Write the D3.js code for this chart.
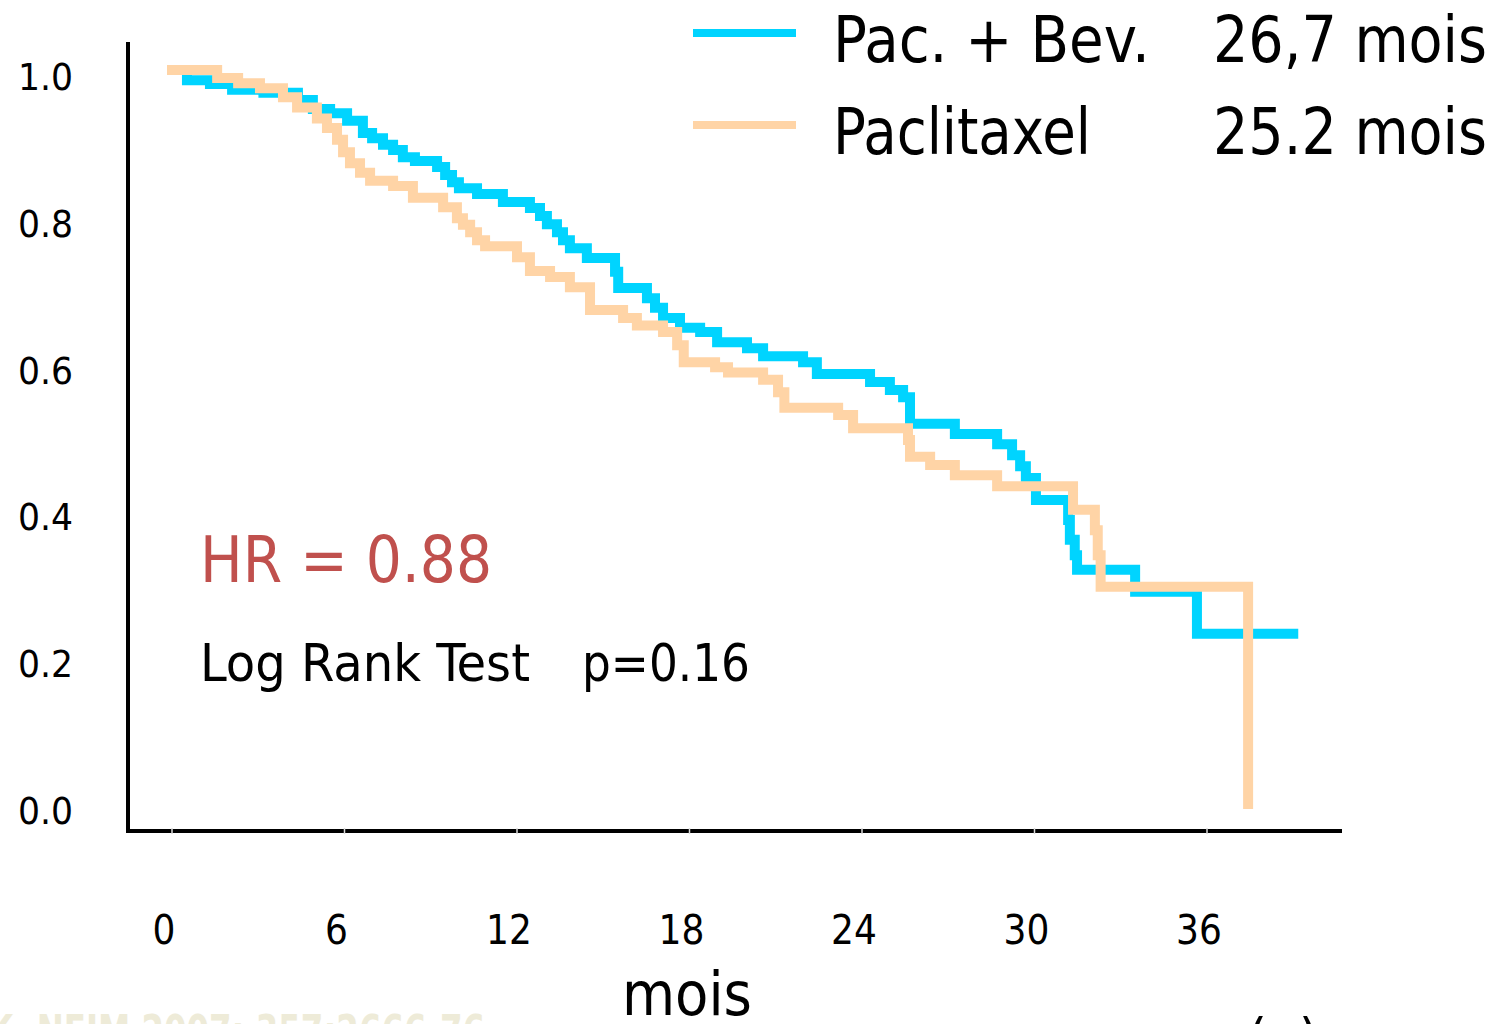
<!DOCTYPE html>
<html>
<head>
<meta charset="utf-8">
<script src="https://cdn.jsdelivr.net/npm/d3@7"></script>
<style>
  html, body { margin: 0; padding: 0; background: #fff; }
  svg { display: block; font-family: "DejaVu Sans Condensed", "DejaVu Sans", Verdana, sans-serif; }
</style>
</head>
<body>
<svg id="km" width="1497" height="1024"></svg>
<script>
/* ===== Data ===== */

// Pac. + Bev. : step times (months) and survival after each step
const bevTimes = [0, 0.52, 1.32, 2.09, 3.18, 4.38, 4.90, 5.50, 6.09, 6.64, 6.96, 7.34, 7.69, 8.03, 8.45,
  9.22, 9.50, 9.74, 9.98, 10.61, 11.51, 12.45, 12.80, 13.04, 13.39, 13.60, 13.84, 14.43, 15.41, 15.52,
  16.52, 16.80, 17.08, 17.67, 18.37, 18.96, 20.0, 20.56, 21.95, 22.43, 24.28, 24.97, 25.43, 25.67,
  27.23, 28.70, 29.22, 29.50, 29.70, 30.05, 31.17, 31.23, 31.40, 31.48, 33.50, 35.65, 39.0];
const bevSurv = [1.0, 0.986, 0.981, 0.973, 0.969, 0.959, 0.947, 0.941, 0.931, 0.914, 0.907, 0.898, 0.891,
  0.881, 0.876, 0.868, 0.857, 0.847, 0.839, 0.831, 0.820, 0.812, 0.801, 0.790, 0.779, 0.768, 0.757,
  0.744, 0.725, 0.703, 0.689, 0.676, 0.662, 0.649, 0.643, 0.629, 0.621, 0.610, 0.602, 0.586, 0.575,
  0.564, 0.554, 0.518, 0.504, 0.490, 0.475, 0.460, 0.444, 0.414, 0.387, 0.360, 0.339, 0.319, 0.289,
  0.232, 0.232];

// Paclitaxel
const pacTimes = [0, 1.57, 2.30, 3.06, 3.86, 4.35, 5.04, 5.39, 5.74, 5.95, 6.19, 6.54, 6.89, 7.69, 8.38,
  9.43, 9.91, 10.12, 10.37, 10.61, 10.89, 12.0, 12.45, 13.15, 13.84, 14.54, 15.69, 16.17, 17.08, 17.57,
  17.80, 18.89, 19.34, 20.56, 21.08, 21.30, 23.17, 23.69, 25.60, 25.67, 26.37, 27.23, 28.70, 31.34,
  32.10, 32.20, 32.30, 37.43];
const pacSurv = [1.0, 0.989, 0.982, 0.975, 0.963, 0.949, 0.934, 0.921, 0.905, 0.888, 0.873, 0.860, 0.849,
  0.842, 0.826, 0.813, 0.798, 0.789, 0.779, 0.768, 0.760, 0.745, 0.726, 0.718, 0.704, 0.673, 0.662,
  0.652, 0.643, 0.625, 0.602, 0.595, 0.588, 0.578, 0.561, 0.540, 0.530, 0.512, 0.496, 0.473, 0.462,
  0.448, 0.433, 0.401, 0.373, 0.339, 0.296, 0.0];

const seriesNames = ["Pac. + Bev.", "Paclitaxel"];
const seriesMedians = ["26,7 mois", "25.2 mois"];
const seriesColors = ["#00d4ff", "#ffd4a6"];

const xTicks = [0, 6, 12, 18, 24, 30, 36];
const yTicks = [0.0, 0.2, 0.4, 0.6, 0.8, 1.0];

/* ===== Setup ===== */

const svg = d3.select("#km");

const x = d3.scaleLinear().domain([0, 36]).range([172, 1207]);
const y = d3.scaleLinear().domain([0, 1]).range([804, 70]);

const toPoints = (ts, ss) => ts.map((t, i) => ({ t: t, s: ss[i] }));
const curves = [toPoints(bevTimes, bevSurv), toPoints(pacTimes, pacSurv)];

/* ===== Axes ===== */

svg.append("line")
  .attr("x1", 128).attr("x2", 128).attr("y1", 42).attr("y2", 833)
  .attr("stroke", "#000").attr("stroke-width", 4);

svg.append("line")
  .attr("x1", 126).attr("x2", 1342).attr("y1", 831).attr("y2", 831)
  .attr("stroke", "#000").attr("stroke-width", 4);

// small light tick marks cutting the axis
svg.selectAll(".xtick")
  .data(xTicks)
  .enter()
  .append("line")
  .attr("class", "xtick")
  .attr("x1", d => x(d)).attr("x2", d => x(d))
  .attr("y1", 828).attr("y2", 834)
  .attr("stroke", "#ddd").attr("stroke-width", 1.5);

svg.selectAll(".xlab")
  .data(xTicks)
  .enter()
  .append("text")
  .attr("class", "xlab")
  .attr("x", d => x(d) - 8)
  .attr("y", 944)
  .attr("text-anchor", "middle")
  .attr("font-size", 40)
  .text(d => d);

svg.selectAll(".ylab")
  .data(yTicks)
  .enter()
  .append("text")
  .attr("class", "ylab")
  .attr("x", 18)
  .attr("y", d => y(d) + 20)
  .attr("font-size", 38)
  .attr("textLength", 55)
  .attr("lengthAdjust", "spacingAndGlyphs")
  .text(d => d.toFixed(1));

svg.append("text")
  .attr("x", 622).attr("y", 1015)
  .attr("font-size", 60)
  .attr("textLength", 130).attr("lengthAdjust", "spacingAndGlyphs")
  .text("mois");

/* ===== Curves ===== */

const line = d3.line()
  .x(d => x(d.t))
  .y(d => y(d.s))
  .curve(d3.curveStepAfter);

curves.forEach((c, i) => {
  svg.append("path")
    .datum(c)
    .attr("d", line)
    .attr("fill", "none")
    .attr("stroke", seriesColors[i])
    .attr("stroke-width", 10)
    .attr("stroke-linecap", "square")
    .attr("stroke-linejoin", "miter");
});

/* ===== Legend ===== */

const legendY = [33, 125];
const nameLen = [317, 258];

seriesNames.forEach((n, i) => {
  svg.append("line")
    .attr("x1", 693).attr("x2", 796)
    .attr("y1", legendY[i]).attr("y2", legendY[i])
    .attr("stroke", seriesColors[i]).attr("stroke-width", 8);

  svg.append("text")
    .attr("x", 833).attr("y", legendY[i] + 29)
    .attr("font-size", 64)
    .attr("textLength", nameLen[i]).attr("lengthAdjust", "spacingAndGlyphs")
    .text(n);

  svg.append("text")
    .attr("x", 1213).attr("y", legendY[i] + 29)
    .attr("font-size", 64)
    .attr("textLength", 274).attr("lengthAdjust", "spacingAndGlyphs")
    .text(seriesMedians[i]);
});

/* ===== Annotations ===== */

svg.append("text")
  .attr("x", 200).attr("y", 582)
  .attr("font-size", 64)
  .attr("fill", "#c0504d")
  .attr("textLength", 292).attr("lengthAdjust", "spacingAndGlyphs")
  .text("HR = 0.88");

svg.append("text")
  .attr("x", 200).attr("y", 681)
  .attr("font-size", 52)
  .attr("textLength", 330).attr("lengthAdjust", "spacingAndGlyphs")
  .text("Log Rank Test");

svg.append("text")
  .attr("x", 582).attr("y", 681)
  .attr("font-size", 52)
  .attr("textLength", 168).attr("lengthAdjust", "spacingAndGlyphs")
  .text("p=0.16");

// faint source line and cut-off text at the bottom edge
svg.append("text")
  .attr("x", -12).attr("y", 1048)
  .attr("font-size", 46)
  .attr("font-weight", "bold")
  .attr("fill", "#eeebd8")
  .attr("textLength", 497).attr("lengthAdjust", "spacingAndGlyphs")
  .text("K. NEJM 2007; 357:2666-76");

svg.append("text")
  .attr("x", 1283).attr("y", 1058)
  .attr("text-anchor", "middle")
  .attr("font-size", 56)
  .text("(n)");
</script>
</body>
</html>
